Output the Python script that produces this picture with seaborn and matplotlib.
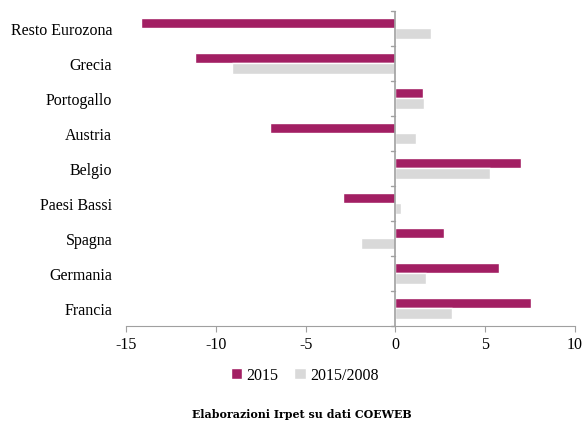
import pandas as pd
import matplotlib.pyplot as plt
import seaborn as sns

# Dati
paesi = ["Resto Eurozona", "Grecia", "Portogallo", "Austria", "Belgio",
         "Paesi Bassi", "Spagna", "Germania", "Francia"]
v_2015 = [-14.17, -11.14, 1.56, -6.98, 6.99, -2.9, 2.73, 5.79, 7.55]
v_2015_2008 = [2.0, -9.1, 1.58, 1.13, 5.26, 0.33, -1.9, 1.71, 3.14]
serie = ["2015", "2015/2008"]
colori = ["#A21F63", "#D9D9D9"]

df = pd.DataFrame({"Paese": paesi * 2,
                   "Valore": v_2015 + v_2015_2008,
                   "Serie": [serie[0]] * len(paesi) + [serie[1]] * len(paesi)})

sns.set_style("white")
plt.rcParams["font.family"] = ["Liberation Serif", "DejaVu Serif"]
plt.rcParams["axes.unicode_minus"] = False
plt.rcParams["text.color"] = "black"
plt.rcParams["xtick.labelcolor"] = "black"
plt.rcParams["ytick.labelcolor"] = "black"

fig = plt.figure(figsize=(5.87, 4.27), dpi=100)
ax = fig.add_axes([0.2147, 0.2342, 0.7649, 0.7377])

sns.barplot(data=df, x="Valore", y="Paese", hue="Serie", orient="h",
            palette=colori, width=0.58, ax=ax, legend=True, saturation=1)

ax.set_xlim(-15, 10)
ax.set_xticks(range(-15, 11, 5))
ax.set_xlabel("")
ax.set_ylabel("")
ax.tick_params(axis="x", labelsize=11.5, length=4, color="#A0A0A0", direction="out", bottom=True, pad=3)
ax.tick_params(axis="y", labelsize=11.5, length=0, pad=10)
for s in ["top", "right", "left"]:
    ax.spines[s].set_visible(False)
ax.spines["bottom"].set_color("#A0A0A0")

# asse verticale sullo zero con tacche tra le categorie
ax.axvline(0, color="#A0A0A0", lw=1.2, zorder=3)
for i in range(len(paesi) + 1):
    ax.plot([-0.22, 0], [i - 0.5, i - 0.5], color="#A0A0A0", lw=1, zorder=3, clip_on=False)
ax.set_ylim(len(paesi) - 0.5, -0.5)

ax.legend(loc="upper center", bbox_to_anchor=(0.398, -0.085), ncol=2, frameon=False,
          fontsize=11.5, handlelength=0.7, handleheight=0.7, handletextpad=0.3,
          columnspacing=1.0)

fig.text(0.515, 0.02, "Elaborazioni Irpet su dati COEWEB", ha="center",
         fontsize=7.9, fontweight="bold", family="DejaVu Serif")

fig.savefig("out.png", dpi=100)
